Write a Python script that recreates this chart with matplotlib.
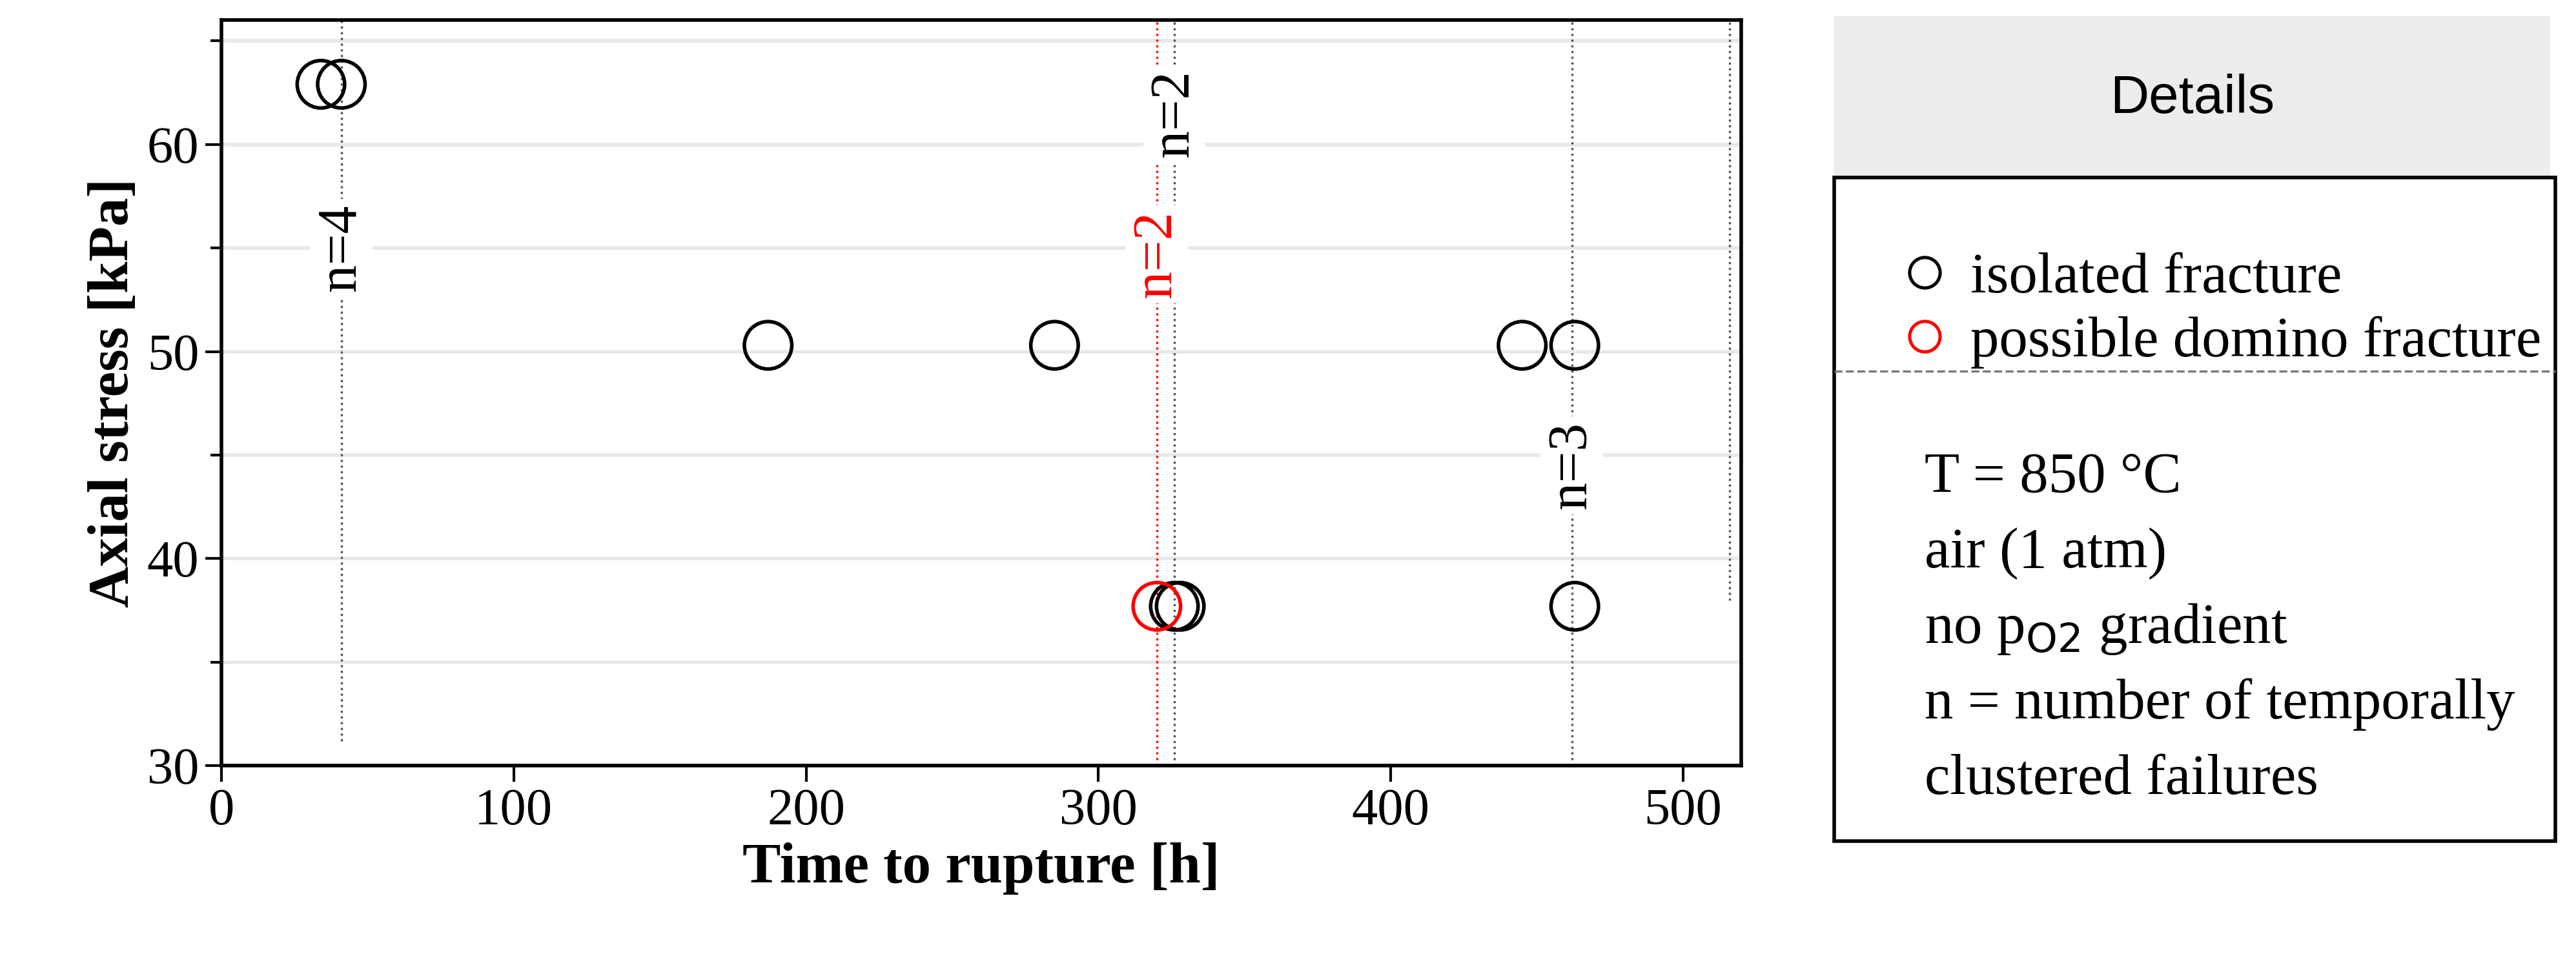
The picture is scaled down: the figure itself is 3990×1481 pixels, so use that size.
import numpy as np
import matplotlib.pyplot as plt
from matplotlib.lines import Line2D
from matplotlib.patches import Rectangle

plt.rcParams['font.family'] = ['Liberation Serif', 'DejaVu Serif']

# data
iso_time = [34, 41, 187, 285, 445, 463, 326, 328, 463]
iso_stress = [62.9, 62.9, 50.3, 50.3, 50.3, 50.3, 37.7, 37.7, 37.7]
dom_time = [320]
dom_stress = [37.7]

# cluster markers: x, y-range, label position, label, line colour, text colour
clusters = [
    (41, 31.2, 66, 55.0, "n=4", "#555555", "black"),
    (320, 30, 66, 54.7, "n=2", "red", "red"),
    (326, 30, 66, 61.5, "n=2", "#555555", "black"),
    (462, 30, 66, 44.5, "n=3", "#555555", "black"),
]
extra_line = (516, 38, 66)

fig = plt.figure(figsize=(19.95, 7.405), dpi=200)
ax = fig.add_axes([0.086, 0.199, 0.590, 0.780])
ax.set_xlim(0, 520)
ax.set_ylim(30, 66)
ax.set_yticks([30, 40, 50, 60])
ax.set_yticks([35, 45, 55, 65], minor=True)
ax.set_xticks([0, 100, 200, 300, 400, 500])
ax.grid(True, which='both', axis='y', color='#e8e8e8', lw=2)
ax.set_axisbelow(True)
for s in ax.spines.values():
    s.set_linewidth(2)
ax.tick_params(labelsize=29, width=1.5, length=9)
ax.tick_params(which='minor', width=1.5, length=6)
ax.set_xlabel("Time to rupture [h]", fontsize=32, fontweight='bold')
ax.set_ylabel("Axial stress [kPa]", fontsize=32, fontweight='bold')

for x, y0, y1, ly, lab, lc, tc in clusters:
    ax.plot([x, x], [y0, y1], ls=':', color=lc, lw=1.2)
    ax.text(x, ly, lab, rotation=90, ha='center', va='center', fontsize=31,
            color=tc, bbox=dict(facecolor='white', edgecolor='none', pad=3))
ax.plot([extra_line[0]] * 2, extra_line[1:], ls=':', color='#555555', lw=1.2)

ax.scatter(iso_time, iso_stress, s=700, facecolors='none', edgecolors='black', lw=2, zorder=3)
ax.scatter(dom_time, dom_stress, s=700, facecolors='none', edgecolors='red', lw=2, zorder=3)

# details header
fig.patches.append(Rectangle((0.712, 0.808), 0.278, 0.175, transform=fig.transFigure,
                             facecolor='#ececec', edgecolor='none'))
fig.text(0.851, 0.897, "Details", ha='center', va='center', fontsize=30,
         family=['Liberation Sans', 'DejaVu Sans'])

# details box
fig.patches.append(Rectangle((0.712, 0.120), 0.280, 0.694, transform=fig.transFigure,
                             facecolor='white', edgecolor='black', lw=2))
fig.lines.append(Line2D([0.712, 0.992], [0.612, 0.612], transform=fig.transFigure,
                        ls='--', color='#777777', lw=1.2))
handles = [
    Line2D([], [], marker='o', ls='none', mfc='none', mec='black', ms=17, mew=1.8),
    Line2D([], [], marker='o', ls='none', mfc='none', mec='red', ms=17, mew=1.8),
]
fig.legend(handles, ["isolated fracture", "possible domino fracture"],
           loc='upper left', bbox_to_anchor=(0.716, 0.79), frameon=False,
           fontsize=32, handletextpad=0.3, labelspacing=0.2, handlelength=1.0)
info = ["T = 850 °C", "air (1 atm)", r"no p$_{\mathrm{O2}}$ gradient",
        "n = number of temporally", "clustered failures"]
for i, t in enumerate(info):
    fig.text(0.747, 0.50 - i * 0.079, t, fontsize=32, va='center')

fig.savefig("out.png", dpi=200)
